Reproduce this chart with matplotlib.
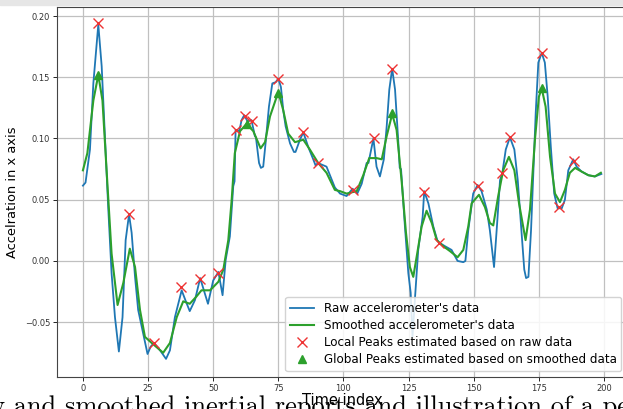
"""
Raw vs smoothed accelerometer signal (x axis) with detected peaks
"""

import matplotlib.pyplot as plt
from matplotlib.patches import Rectangle

# ==================== Data ====================

raw_t = [0, 1, 2.7, 4, 5.9, 7.2, 8.4, 9.7, 11, 12.3, 13.8, 15.2, 16.4, 17.7, 18.7,
         20, 21.2, 23.1, 24.8, 26, 27.3, 29.6, 31.9, 33.4, 35.3, 37.9, 39.5, 41,
         43, 45, 48, 50, 52, 53.6, 54.8, 56.4, 57.7, 58.2, 58.6, 60, 60.9, 61.9,
         63.2, 64.7, 66, 66.4, 67.6, 68.3, 69.2, 70.1, 71.4, 72.7, 74, 75, 76,
         76.9, 77.8, 79.5, 81, 81.6, 83.3, 84.6, 86.5, 88.4, 89.3, 90.2, 93.5,
         96.7, 98.7, 101.2, 103.5, 105.3, 107, 108.9, 109.6, 111.5, 112.7, 114,
         115.5, 116.6, 117.6, 118.7, 119.8, 121, 121.6, 122.1, 123.6, 124.9, 125.8,
         126.5, 127.5, 128.7, 130.4, 131, 132.6, 134.5, 136, 136.7, 139, 141.5,
         143.8, 146, 146.8, 147.9, 149.8, 151.5, 153, 155, 156.2, 157.8, 159,
         160.1, 161, 162.3, 163.9, 165.6, 166.9, 168.1, 169.4, 170.1, 171, 172,
         172.9, 173.8, 174.8, 176.1, 177.3, 178.4, 179.6, 180.9, 182.2, 183.8, 185,
         186.3, 188.2, 189.5, 191.4, 194, 196.5, 199]
raw_v = [0.0615, 0.064, 0.091, 0.145, 0.193, 0.159, 0.104, 0.044, -0.010, -0.046,
         -0.074, -0.046, 0.017, 0.038, 0.023, -0.013, -0.040, -0.059, -0.076,
         -0.070, -0.067, -0.073, -0.080, -0.073, -0.046, -0.024, -0.033, -0.041,
         -0.032, -0.014, -0.035, -0.016, -0.009, -0.028, 0.001, 0.020, 0.061,
         0.065, 0.107, 0.106, 0.115, 0.119, 0.114, 0.115, 0.102, 0.101, 0.080,
         0.076, 0.077, 0.096, 0.126, 0.145, 0.146, 0.149, 0.142, 0.123, 0.110,
         0.096, 0.089, 0.089, 0.099, 0.105, 0.093, 0.083, 0.078, 0.080, 0.077,
         0.060, 0.055, 0.053, 0.059, 0.055, 0.063, 0.080, 0.080, 0.100, 0.077,
         0.069, 0.083, 0.110, 0.140, 0.157, 0.140, 0.099, 0.076, 0.075, 0.028,
         -0.010, -0.026, -0.062, -0.029, 0.009, 0.036, 0.057, 0.047, 0.028, 0.017,
         0.015, 0.012, 0.009, 0.000, -0.001, 0.000, 0.025, 0.055, 0.062, 0.057,
         0.042, 0.025, -0.005, 0.031, 0.066, 0.072, 0.091, 0.101, 0.091, 0.066,
         0.031, -0.007, -0.014, -0.013, 0.025, 0.074, 0.121, 0.162, 0.170, 0.162,
         0.134, 0.093, 0.055, 0.043, 0.043, 0.050, 0.074, 0.083, 0.077, 0.073,
         0.070, 0.069, 0.071]

smooth_t = [0, 1.7, 4, 5.9, 7.5, 9, 11, 13.3, 15.5, 18, 20, 21.9, 23.8, 26.4, 30.8,
            33.4, 36, 38.5, 41, 43.6, 45.5, 48.8, 52, 53.9, 55.8, 57.1, 58.3, 60.3,
            62.8, 65.4, 68.2, 69.9, 71.8, 75, 76.9, 78.8, 81.4, 84.6, 87.1, 90.3,
            93.5, 96.7, 98.7, 101.2, 105.1, 107.6, 109.9, 112.7, 114.7, 116.6,
            118.7, 120.4, 122.3, 124, 125.5, 126.8, 128.3, 130, 131.9, 133.9, 135.8,
            138.3, 140.9, 143.8, 146, 147.9, 149.2, 152, 154.3, 156.2, 157.5, 159.4,
            161.3, 163.5, 165.6, 167.4, 169.9, 171.6, 173.5, 175, 176.1, 177.6,
            179.3, 181.2, 183.1, 185, 186.9, 188.9, 191.4, 194, 196.5, 198.8]
smooth_v = [0.074, 0.088, 0.131, 0.152, 0.131, 0.077, 0.006, -0.036, -0.018, 0.010,
            -0.005, -0.040, -0.062, -0.067, -0.075, -0.067, -0.046, -0.033, -0.035,
            -0.029, -0.024, -0.024, -0.017, -0.007, 0.017, 0.050, 0.088, 0.106,
            0.112, 0.106, 0.092, 0.097, 0.118, 0.138, 0.123, 0.104, 0.097, 0.099,
            0.091, 0.080, 0.072, 0.058, 0.057, 0.055, 0.057, 0.070, 0.084, 0.084,
            0.083, 0.102, 0.120, 0.107, 0.066, 0.023, -0.005, -0.013, 0.006, 0.028,
            0.041, 0.031, 0.017, 0.012, 0.008, 0.003, 0.009, 0.028, 0.047, 0.054,
            0.044, 0.031, 0.029, 0.053, 0.074, 0.085, 0.074, 0.047, 0.017, 0.042,
            0.099, 0.134, 0.141, 0.126, 0.085, 0.055, 0.048, 0.058, 0.072, 0.076,
            0.073, 0.070, 0.069, 0.072]

# local peaks on raw data (red crosses)
local_t = [5.8, 17.7, 27.3, 37.6, 45, 52, 58.7, 62.2, 65, 75, 84.5, 90.2, 103.6,
           111.7, 118.6, 131, 136.7, 151.6, 160.8, 164, 176.2, 182.9, 188.5]
local_v = [0.194, 0.038, -0.067, -0.021, -0.015, -0.010, 0.107, 0.118, 0.114, 0.149,
           0.105, 0.080, 0.058, 0.100, 0.157, 0.056, 0.015, 0.061, 0.072, 0.101,
           0.170, 0.044, 0.082]

# global peaks on smoothed data (green triangles)
global_t = [5.9, 63, 75, 118.7, 176.1]
global_v = [0.152, 0.112, 0.137, 0.121, 0.141]

caption = "w and smoothed inertial reports and illustration of a pe"

# ==================== Plot ====================

fig = plt.figure(figsize=(6.23, 4.09), dpi=100)
fig.patches.append(Rectangle((0, 1 - 5 / 409), 1, 5 / 409, transform=fig.transFigure,
                             color="#e6e6e6", zorder=0))
ax = fig.add_axes([57 / 623, 1 - 377 / 409, 570.3 / 623, 370 / 409])

ax.plot(raw_t, raw_v, color="#1f77b4", lw=1.3, label="Raw accelerometer's data")
ax.plot(smooth_t, smooth_v, color="#2ca02c", lw=1.5, label="Smoothed accelerometer's data")
ax.plot(local_t, local_v, "x", color="#ee3333", ms=7, mew=1.0,
        label="Local Peaks estimated based on raw data")
ax.plot(global_t, global_v, "^", color="#2ca02c", ms=6,
        label="Global Peaks estimated based on smoothed data")

ax.set_xlim(-9.95, 208.95)
ax.set_ylim(-0.0948, 0.2074)
ax.set_xticks([0, 25, 50, 75, 100, 125, 150, 175, 200])
ax.set_yticks([-0.05, 0.0, 0.05, 0.10, 0.15, 0.20])
ax.tick_params(labelsize=6, length=3, width=0.6, pad=2, labelcolor="#333333")
ax.grid(True, color="#c0c0c0", lw=0.9)
for s in ax.spines.values():
    s.set_color("#444444")
    s.set_linewidth(0.8)

ax.set_xlabel("Time index", fontsize=10.5, labelpad=0)
ax.set_ylabel("Accelration in x axis", fontsize=9.4, labelpad=4)
ax.legend(loc="lower right", fontsize=8.6, framealpha=0.85, labelspacing=0.35)

# caption of the paper, cut by the bottom edge of the screenshot
fig.text(-0.022, -0.013, caption, family=["cmr10", "DejaVu Serif"], fontsize=19,
         va="baseline", ha="left", color="black")

fig.savefig("out.png", dpi=100)
